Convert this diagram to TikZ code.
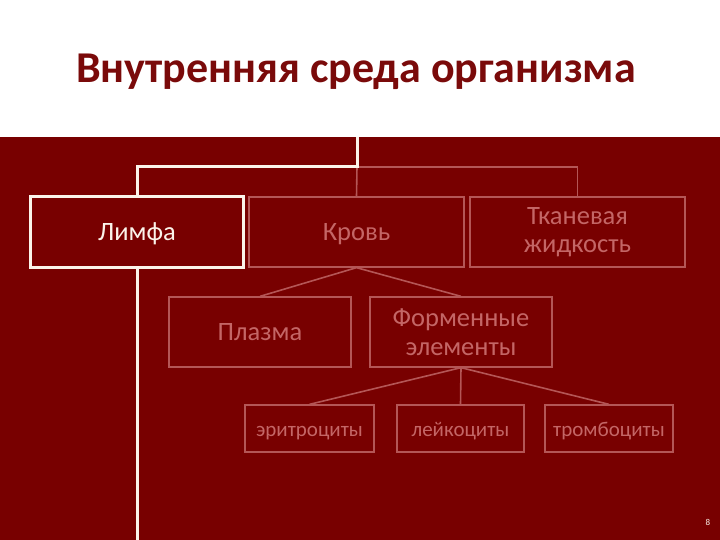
\documentclass[tikz,border=0pt]{standalone}
\usepackage{fontspec}
\setmainfont{Carlito}
\definecolor{bg}{HTML}{780000}
\definecolor{pale}{HTML}{B45656}
\definecolor{ptxt}{HTML}{C46666}
\definecolor{ttl}{HTML}{7A0A0A}
\definecolor{wline}{HTML}{FBF3EA}
\begin{document}
\begin{tikzpicture}[x=1pt,y=-1pt,
  pbox/.style={draw=pale, line width=1.3pt, text=ptxt, align=center, inner sep=0pt, font=\fontsize{26.5}{28.5}\selectfont},
  one/.style={text height=17pt, text depth=0pt},
  sbox/.style={pbox, font=\fontsize{21}{24}\selectfont, text height=15pt, text depth=0pt},
  wbox/.style={draw=wline, line width=3pt, text=wline, align=center, inner sep=0pt, font=\fontsize{26.5}{28.5}\selectfont},
  pline/.style={draw=pale, line width=1.6pt},
  wl/.style={draw=wline, line width=3pt}]
\useasboundingbox (0,0) rectangle (720,540);
\fill[white] (0,0) rectangle (720,540);
\fill[bg] (0,137) rectangle (720,540);
\node[text=ttl, font=\fontsize{44}{48}\bfseries\selectfont] (title) at (356,72) {Внутренняя среда организма};
\coordinate (top) at (357,137);
\coordinate (j) at (357,167);
\coordinate (jl) at (137,167);
\coordinate (bot) at (137,540);
\node[wbox, one, minimum width=213pt, minimum height=70pt] (lymph) at (137,232) {Лимфа};
\node[pbox, one, minimum width=215pt, minimum height=70pt] (krov) at (356.5,232) {Кровь};
\node[pbox, minimum width=215pt, minimum height=70pt] (tkan) at (577.5,232) {Тканевая\\жидкость};
\node[pbox, one, minimum width=182pt, minimum height=70pt] (plazma) at (260,332) {Плазма};
\node[pbox, minimum width=182pt, minimum height=70pt] (form) at (461,332) {Форменные\\элементы};
\node[sbox, minimum width=129pt, minimum height=47pt] (eri) at (309.5,428.5) {эритроциты};
\node[sbox, minimum width=127pt, minimum height=47pt] (lei) at (460.5,428.5) {лейкоциты};
\node[sbox, minimum width=128pt, minimum height=47pt] (tro) at (609,428.5) {тромбоциты};
\draw[pline] (j) -- (krov.north);
\draw[pline] (j) -| (tkan.north);
\draw[pline] (krov.south) -- (plazma.north);
\draw[pline] (krov.south) -- (form.north);
\draw[pline] (form.south) -- (eri.north);
\draw[pline] (form.south) -- (lei.north);
\draw[pline] (form.south) -- (tro.north);
\draw[wl] (top) -- (j) -- (jl) -- (lymph.north);
\draw[wl] (lymph.south) -- (bot);
\node[text=wline, font=\fontsize{9}{10}\selectfont] (num) at (708,522) {8};
\end{tikzpicture}
\end{document}
